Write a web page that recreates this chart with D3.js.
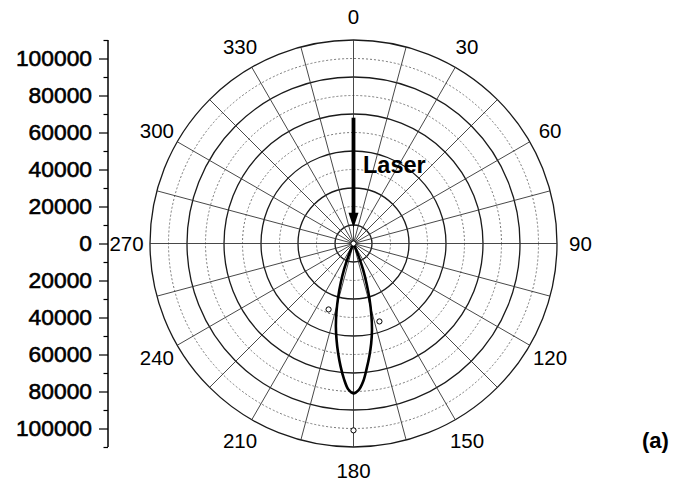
<!DOCTYPE html>
<html>
<head>
<meta charset="utf-8">
<script src="https://cdn.jsdelivr.net/npm/d3@7"></script>
<style>
  html, body { margin: 0; padding: 0; background: #fff; }
  svg { display: block; }
  text { font-family: "Liberation Sans", Arial, Helvetica, sans-serif; fill: #000; }
</style>
</head>
<body>
<svg id="chart" width="682" height="485"></svg>
<script>
// ---- data ----
const ringValues = [10000, 20000, 30000, 40000, 50000, 60000, 70000, 80000, 90000, 100000, 110000];
const solidRings = [10000, 30000, 50000, 70000, 90000, 110000];
const spokeAngles = d3.range(0, 360, 15);
const angleLabels = [0, 30, 60, 90, 120, 150, 180, 210, 240, 270, 300, 330];
const axisMajorTicks = [-100000, -80000, -60000, -40000, -20000, 0, 20000, 40000, 60000, 80000, 100000];
const axisMinorTicks = [-110000, -90000, -70000, -50000, -30000, -10000, 10000, 30000, 50000, 70000, 90000, 110000];

const lobeAngles = [156, 158, 160, 162, 164, 166, 168, 170, 172, 174, 176, 178, 180,
                    182, 184, 186, 188, 190, 192, 194, 196, 198, 200, 202, 204];
const lobeRadii  = [0, 7500, 15500, 23000, 31500, 40000, 48000, 55000, 61500, 68000, 74800, 79300, 81000,
                    79000, 73500, 66800, 59800, 52800, 45800, 38000, 30000, 22300, 14800, 7300, 0];

const markerAngles = [0, 200.7, 161.6, 180];
const markerRadii  = [0, 38100, 44400, 101000];

const laserStart = 68000, laserEnd = 8500;

// ---- layout ----
const svg = d3.select("#chart");
const cx = 353.5, cy = 243.5, R = 203.5;
const rScale = d3.scaleLinear().domain([0, 110000]).range([0, R]);
const rad = d => d * Math.PI / 180;
const px = (a, r) => cx + r * Math.sin(rad(a));
const py = (a, r) => cy - r * Math.cos(rad(a));

const g = svg.append("g").attr("transform", `translate(${cx},${cy})`);

// rings
g.selectAll("circle.ring").data(ringValues).enter().append("circle")
  .attr("class", "ring")
  .attr("r", d => rScale(d))
  .attr("fill", "none")
  .attr("stroke", d => solidRings.includes(d) ? "#1a1a1a" : "#777")
  .attr("stroke-width", d => solidRings.includes(d) ? 1.3 : 1)
  .attr("stroke-dasharray", d => solidRings.includes(d) ? null : "2,2");

// spokes
g.selectAll("line.spoke").data(spokeAngles).enter().append("line")
  .attr("x1", 0).attr("y1", 0)
  .attr("x2", d => R * Math.sin(rad(d)))
  .attr("y2", d => -R * Math.cos(rad(d)))
  .attr("stroke", "#333").attr("stroke-width", 0.9);

// angle labels
svg.selectAll("text.ang").data(angleLabels).enter().append("text")
  .attr("x", d => px(d, 227))
  .attr("y", d => py(d, 227))
  .attr("text-anchor", "middle")
  .attr("dominant-baseline", "central")
  .style("font-size", "20.5px")
  .text(d => d);

// lobe
const lobeData = lobeAngles.map((a, i) => [rad(a), rScale(lobeRadii[i])]);
g.append("path")
  .datum(lobeData)
  .attr("d", d3.lineRadial().angle(d => d[0]).radius(d => d[1]).curve(d3.curveCatmullRom))
  .attr("fill", "none").attr("stroke", "#000").attr("stroke-width", 2.6)
  .attr("stroke-linejoin", "round");

// markers
g.selectAll("circle.mk").data(markerAngles).enter().append("circle")
  .attr("cx", (d, i) => rScale(markerRadii[i]) * Math.sin(rad(d)))
  .attr("cy", (d, i) => -rScale(markerRadii[i]) * Math.cos(rad(d)))
  .attr("r", 2.6)
  .attr("fill", "#fff").attr("stroke", "#000").attr("stroke-width", 1);

// laser arrow
const yA = -rScale(laserStart), yB = -rScale(laserEnd);
g.append("line").attr("x1", 0).attr("x2", 0).attr("y1", yA).attr("y2", yB - 13)
  .attr("stroke", "#000").attr("stroke-width", 3.8);
g.append("path")
  .attr("d", `M${-5},${yB - 15} L${5},${yB - 15} L0,${yB} Z`)
  .attr("fill", "#000");
svg.append("text").attr("x", 363).attr("y", 173)
  .style("font-size", "23.5px").style("font-weight", "bold")
  .text("Laser");

// left axis
const yScale = d3.scaleLinear().domain([-110000, 110000]).range([cy + R, cy - R]);
svg.append("g").attr("transform", "translate(108,0)")
  .call(d3.axisLeft(yScale).tickValues(axisMinorTicks).tickSize(4.5).tickFormat(""))
  .call(s => s.select(".domain").remove())
  .call(s => s.selectAll("line").attr("stroke", "#000").attr("stroke-width", 1.2));
const ax = svg.append("g").attr("transform", "translate(108,0)")
  .call(d3.axisLeft(yScale).tickValues(axisMajorTicks).tickSize(9).tickSizeOuter(0).tickPadding(7)
        .tickFormat(d => Math.abs(d)));
ax.select(".domain").attr("stroke", "#000").attr("stroke-width", 1.5)
  .attr("d", `M0,${cy - R}V${cy + R}`);
ax.selectAll("line").attr("stroke", "#000").attr("stroke-width", 1.2);
ax.selectAll("text")
  .style("font-size", "22.8px")
  .style("font-family", "'Liberation Sans', Arial, sans-serif")
  .attr("fill", "#000").attr("stroke", "#000").attr("stroke-width", 0.6);

// panel label
svg.append("text").attr("x", 642).attr("y", 448)
  .style("font-size", "22px").style("font-weight", "bold")
  .text("(a)");
</script>
</body>
</html>
